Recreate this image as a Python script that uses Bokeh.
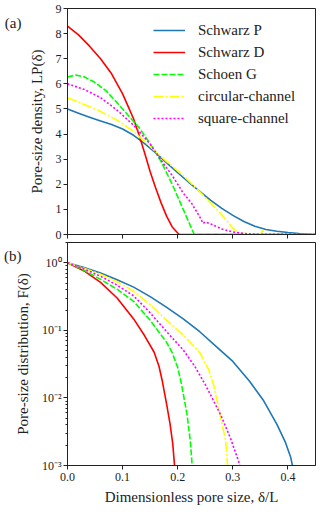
from bokeh.plotting import figure
from bokeh.layouts import column
from bokeh.models import (Range1d, FixedTicker, CustomJSTickFormatter, LinearAxis, LogAxis,
                          Legend, LegendItem)
from bokeh.embed import file_html
from bokeh.resources import INLINE

names = ["Schwarz P", "Schwarz D", "Schoen G", "circular-channel", "square-channel"]
colors = ["#1f77b4", "#ff0000", "#00ff00", "#ffff00", "#ff00ff"]
dashes = ["solid", "solid", "6 2", "10 2 2 2", "2 2"]
panel_tags = ["(a)", "(b)"]

# ---- panel (a): pore-size density LP(delta)
sp_x = [0, 0.02, 0.04, 0.06, 0.08, 0.10, 0.12, 0.14, 0.16, 0.18, 0.20, 0.22, 0.24, 0.26,
        0.28, 0.30, 0.32, 0.34, 0.36, 0.38, 0.40, 0.42, 0.44, 0.45]
sp_y = [5.0, 4.83, 4.67, 4.52, 4.38, 4.2, 3.95, 3.62, 3.25, 2.85, 2.46, 2.08, 1.72, 1.36,
        1.04, 0.76, 0.52, 0.33, 0.2, 0.13, 0.08, 0.04, 0.01, 0.0]
sd_x = [0, 0.02, 0.04, 0.06, 0.08, 0.10, 0.11, 0.12, 0.13, 0.14, 0.15, 0.16, 0.17, 0.18,
        0.19, 0.20, 0.203, 0.45]
sd_y = [8.3, 7.95, 7.5, 7.0, 6.4, 5.6, 5.1, 4.6, 3.95, 3.25, 2.5, 1.85, 1.25, 0.72,
        0.3, 0.06, 0.0, 0.0]
sg_x = [0, 0.015, 0.03, 0.05, 0.07, 0.09, 0.11, 0.13, 0.15, 0.17, 0.19, 0.21, 0.22, 0.23, 0.45]
sg_y = [6.27, 6.35, 6.28, 6.05, 5.72, 5.25, 4.75, 4.25, 3.62, 2.9, 2.0, 1.0, 0.5, 0.0, 0.0]
cc_x = [0, 0.03, 0.06, 0.09, 0.12, 0.15, 0.18, 0.21, 0.24, 0.26, 0.28, 0.29, 0.30, 0.31,
        0.33, 0.35, 0.354, 0.358, 0.45]
cc_y = [5.45, 5.18, 4.9, 4.55, 4.1, 3.5, 2.9, 2.35, 1.7, 1.25, 0.78, 0.52, 0.25, 0.06,
        0.02, 0.0, 0.18, 0.0, 0.0]
sq_x = [0, 0.03, 0.06, 0.09, 0.12, 0.15, 0.17, 0.19, 0.21, 0.225, 0.24, 0.246, 0.25, 0.26,
        0.28, 0.30, 0.32, 0.34, 0.45]
sq_y = [6.0, 5.78, 5.45, 4.95, 4.35, 3.6, 2.95, 2.35, 1.65, 1.25, 0.7, 0.44, 0.5, 0.42,
        0.22, 0.1, 0.04, 0.01, 0.0]

# ---- panel (b): pore-size distribution F(delta)
fp_x = [0, 0.03, 0.06, 0.09, 0.12, 0.15, 0.18, 0.21, 0.24, 0.27, 0.30, 0.33, 0.355, 0.38,
        0.395, 0.405, 0.412]
fp_y = [1.0, 0.851, 0.708, 0.562, 0.437, 0.316, 0.219, 0.148, 0.0955, 0.0575, 0.0347,
        0.0178, 0.00933, 0.00407, 0.00224, 0.00132, 0.00071]
fd_x = [0, 0.03, 0.06, 0.09, 0.12, 0.14, 0.157, 0.166, 0.172, 0.18, 0.186, 0.191, 0.194, 0.196]
fd_y = [1.0, 0.759, 0.513, 0.302, 0.148, 0.0832, 0.0479, 0.0295, 0.0178, 0.00794, 0.00417,
        0.00209, 0.00105, 0.00063]
fg_x = [0, 0.03, 0.06, 0.09, 0.12, 0.15, 0.18, 0.19, 0.2, 0.207, 0.217, 0.223, 0.226, 0.228]
fg_y = [1.0, 0.776, 0.569, 0.407, 0.269, 0.141, 0.0661, 0.0468, 0.0282, 0.0158, 0.00562,
        0.00224, 0.00105, 0.00063]
fc_x = [0, 0.03, 0.06, 0.09, 0.12, 0.15, 0.18, 0.21, 0.24, 0.255, 0.265, 0.278, 0.287, 0.29, 0.292]
fc_y = [1.0, 0.832, 0.676, 0.525, 0.380, 0.240, 0.141, 0.0851, 0.0468, 0.0275, 0.0158,
        0.00513, 0.00234, 0.00112, 0.00063]
fs_x = [0, 0.03, 0.06, 0.09, 0.12, 0.15, 0.18, 0.21, 0.23, 0.25, 0.278, 0.296, 0.311, 0.316]
fs_y = [1.0, 0.813, 0.631, 0.468, 0.324, 0.182, 0.0955, 0.0513, 0.0302, 0.0158, 0.00562,
        0.00251, 0.00112, 0.00071]

x_ticks = [0.0, 0.1, 0.2, 0.3, 0.4]
a_y_ticks = [0, 1, 2, 3, 4, 5, 6, 7, 8, 9]
b_y_ticks = [0.001, 0.01, 0.1, 1.0]
b_minor = [m * 10.0 ** e for e in (-3, -2, -1, 0) for m in range(2, 10)]
b_minor = [v for v in b_minor if v <= 2.0]

FONT = "Liberation Serif"
TXT = "#222222"


def style(p):
    p.grid.visible = False
    p.outline_line_color = "#222222"
    p.outline_line_width = 1
    for ax in p.axis:
        ax.axis_line_color = "#222222"
        ax.major_tick_in = 0
        ax.major_tick_out = 4
        ax.minor_tick_in = 0
        ax.minor_tick_out = 2
        ax.major_tick_line_color = "#222222"
        ax.minor_tick_line_color = "#222222"
        ax.major_label_text_font = FONT
        ax.major_label_text_font_size = "12px"
        ax.major_label_text_color = TXT
        ax.major_label_standoff = 2
        ax.axis_label_text_font = FONT
        ax.axis_label_text_font_size = "15px"
        ax.axis_label_text_font_style = "normal"
        ax.axis_label_text_color = TXT
        ax.axis_label_standoff = 8


def tag_axis(cls, pos, tag, standoff):
    # an outer, line-less axis carrying only the panel tag "(a)" / "(b)"
    ax = cls(ticker=FixedTicker(ticks=[pos], minor_ticks=[]),
             formatter=CustomJSTickFormatter(code="return '%s';" % tag))
    ax.axis_line_color = None
    ax.major_tick_line_color = None
    ax.minor_tick_line_color = None
    ax.major_tick_in = 0
    ax.major_tick_out = 0
    ax.major_label_standoff = standoff
    ax.major_label_text_font = FONT
    ax.major_label_text_font_size = "15px"
    ax.major_label_text_color = TXT
    return ax


# ---------------- panel (a)
pa = figure(frame_width=248, frame_height=226, x_range=Range1d(0, 0.45), y_range=Range1d(0, 9),
            output_backend="svg", toolbar_location=None,
            min_border_left=67, min_border_right=9, min_border_top=8, min_border_bottom=7)
style(pa)
pa.xaxis.ticker = FixedTicker(ticks=x_ticks)
pa.xaxis.minor_tick_line_color = None
pa.xaxis.formatter = CustomJSTickFormatter(code="return '';")
pa.xaxis.major_label_standoff = 0
pa.yaxis.ticker = FixedTicker(ticks=a_y_ticks)
pa.yaxis.minor_tick_line_color = None
pa.yaxis.axis_label = "Pore-size density, LP(δ)"
pa.add_layout(tag_axis(LinearAxis, 8.44, panel_tags[0], 4), "left")

a_data = [(sp_x, sp_y), (sd_x, sd_y), (sg_x, sg_y), (cc_x, cc_y), (sq_x, sq_y)]
items = []
for (xs, ys), nm, c, d in zip(a_data, names, colors, dashes):
    r = pa.line(xs, ys, line_color=c, line_width=1.6, line_dash=d, line_join="round")
    items.append(LegendItem(label=nm, renderers=[r]))

leg = Legend(items=items, location=(86, 106), glyph_width=32, glyph_height=20,
             label_height=20, spacing=2, padding=0, margin=0, label_standoff=13,
             border_line_color=None, background_fill_alpha=0,
             label_text_font=FONT, label_text_font_size="15px", label_text_color=TXT)
pa.add_layout(leg)

# ---------------- panel (b)
pb = figure(frame_width=248, frame_height=223, x_range=Range1d(0, 0.45),
            y_range=Range1d(0.001, 2.0), y_axis_type="log",
            output_backend="svg", toolbar_location=None,
            min_border_left=67, min_border_right=9, min_border_top=1, min_border_bottom=45)
style(pb)
pb.xaxis.ticker = FixedTicker(ticks=x_ticks)
pb.xaxis.minor_tick_line_color = None
pb.xaxis.formatter = CustomJSTickFormatter(code="return tick.toFixed(1);")
pb.xaxis.major_label_standoff = 3
pb.xaxis.axis_label = "Dimensionless pore size, δ/L"
pb.xaxis.axis_label_standoff = 5
pb.yaxis.ticker = FixedTicker(ticks=b_y_ticks, minor_ticks=b_minor)
pb.yaxis.formatter = CustomJSTickFormatter(code="""
const e = Math.round(Math.log10(tick));
const sup = {"-": "\u207B", "0": "\u2070", "1": "\u00B9", "2": "\u00B2", "3": "\u00B3"};
return "10" + String(e).split("").map(c => sup[c]).join("");
""")
pb.yaxis.axis_label = "Pore-size distribution, F(δ)"
pb.add_layout(tag_axis(LogAxis, 1.284, panel_tags[1], -10), "left")

b_data = [(fp_x, fp_y), (fd_x, fd_y), (fg_x, fg_y), (fc_x, fc_y), (fs_x, fs_y)]
for (xs, ys), c, d in zip(b_data, colors, dashes):
    pb.line(xs, ys, line_color=c, line_width=1.6, line_dash=d, line_join="round")

layout = column(pa, pb, spacing=0)
open("out.html", "w").write(file_html(layout, INLINE))
